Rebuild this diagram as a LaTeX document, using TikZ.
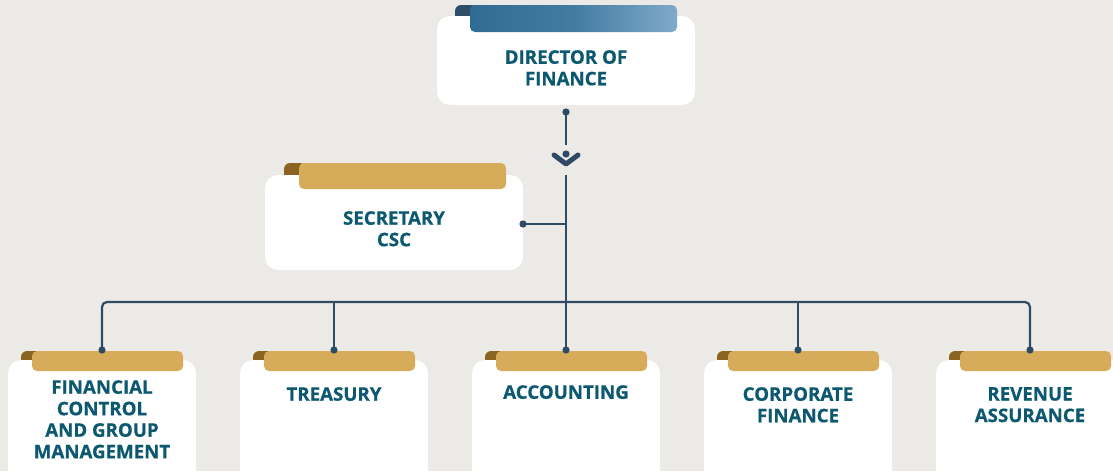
\documentclass[tikz,border=0pt]{standalone}
\usepackage{fontspec}
\setmainfont{Open Sans}
\usetikzlibrary{calc}
\definecolor{bg}{HTML}{ECEAE6}
\definecolor{gold}{HTML}{D6AC5A}
\definecolor{curlbrown}{HTML}{8C6422}
\definecolor{curlblue}{HTML}{2E4D69}
\definecolor{bluedark}{HTML}{2F6C93}
\definecolor{bluelight}{HTML}{7FAACA}
\definecolor{linec}{HTML}{2F4A65}
\definecolor{txt}{HTML}{0C5870}
\tikzset{
  card/.style={fill=white, draw=none, rounded corners=13pt},
  tabgold/.style={fill=gold, rounded corners=5pt},
  curlgold/.style={fill=curlbrown, rounded corners=6pt},
  label/.style={font=\bfseries\fontsize{18.7}{21.5}\selectfont\addfontfeatures{FakeBold=0.6}, text=txt, align=center, inner sep=0pt, anchor=north},
  conn/.style={draw=linec, line width=2.2pt},
  dot/.style={fill=linec},
}
\begin{document}
\begin{tikzpicture}[x=1pt,y=-1pt]
\useasboundingbox (0,0) rectangle (1113,471);
\fill[bg] (0,0) rectangle (1113,471);
\begin{scope}
\clip (0,0) rectangle (1113,471);
% Director
\fill[curlblue, rounded corners=6pt] (455,5) rectangle (478,30);
\fill[card] (437,16) rectangle (695,105);
\shade[rounded corners=5pt, left color=bluedark, right color=bluelight, middle color=bluedark!75!bluelight] (470,5) rectangle (677,32);
\node[label] (dir) at (566,50) {DIRECTOR OF\\FINANCE};
% Secretary
\fill[curlgold] (284,163) rectangle (306,185);
\fill[card] (265,175) rectangle (523,270);
\fill[tabgold] (299,163) rectangle (506,189);
\node[label] (sec) at (394,211) {SECRETARY\\CSC};
% bottom boxes
\foreach \i/\x in {1/8,2/240,3/472,4/704,5/936}{
  \fill[curlgold] (\x+13,351) rectangle (\x+33,368);
  \fill[card] (\x,360) rectangle (\x+188,500);
  \fill[tabgold] (\x+24,351) rectangle (\x+175,371);
}
\end{scope}
\node[label] (b1) at (102,380) {FINANCIAL\\CONTROL\\AND GROUP\\MANAGEMENT};
\node[label] (b2) at (334,387) {TREASURY};
\node[label] (b3) at (566,385) {ACCOUNTING};
\node[label] (b4) at (798,387) {CORPORATE\\FINANCE};
\node[label] (b5) at (1030,387) {REVENUE\\ASSURANCE};
% connector coordinates
\coordinate (d0) at (566,112);
\coordinate (d0b) at (566,145);
\coordinate (hubtop) at (566,175);
\coordinate (hubsec) at (566,224);
\coordinate (ds) at (523,224);
\coordinate (hubrow) at (566,302);
\coordinate (t1) at (102,350);
\coordinate (t2) at (334,350);
\coordinate (t3) at (566,350);
\coordinate (t4) at (798,350);
\coordinate (t5) at (1030,350);
\coordinate (chev) at (566,154);
\draw[conn] (d0) -- (d0b);
\draw[conn] (hubtop) -- (t3);
\draw[conn] (ds) -- (hubsec);
\draw[conn, rounded corners=5pt] (t1) |- (hubrow) -| (t5);
\draw[conn] (t2) -- (t2 |- hubrow);
\draw[conn] (t4) -- (t4 |- hubrow);
\foreach \c in {d0,ds,t1,t2,t3,t4,t5}{\fill[dot] (\c) circle (3.6pt);}
% chevron icon
\fill[dot] (chev) circle (3.6pt);
\draw[draw=linec, line width=5pt, line cap=round, line join=round] ($(chev)+(-12,1)$) -- ($(chev)+(0,10)$) -- ($(chev)+(12,1)$);
\end{tikzpicture}
\end{document}
